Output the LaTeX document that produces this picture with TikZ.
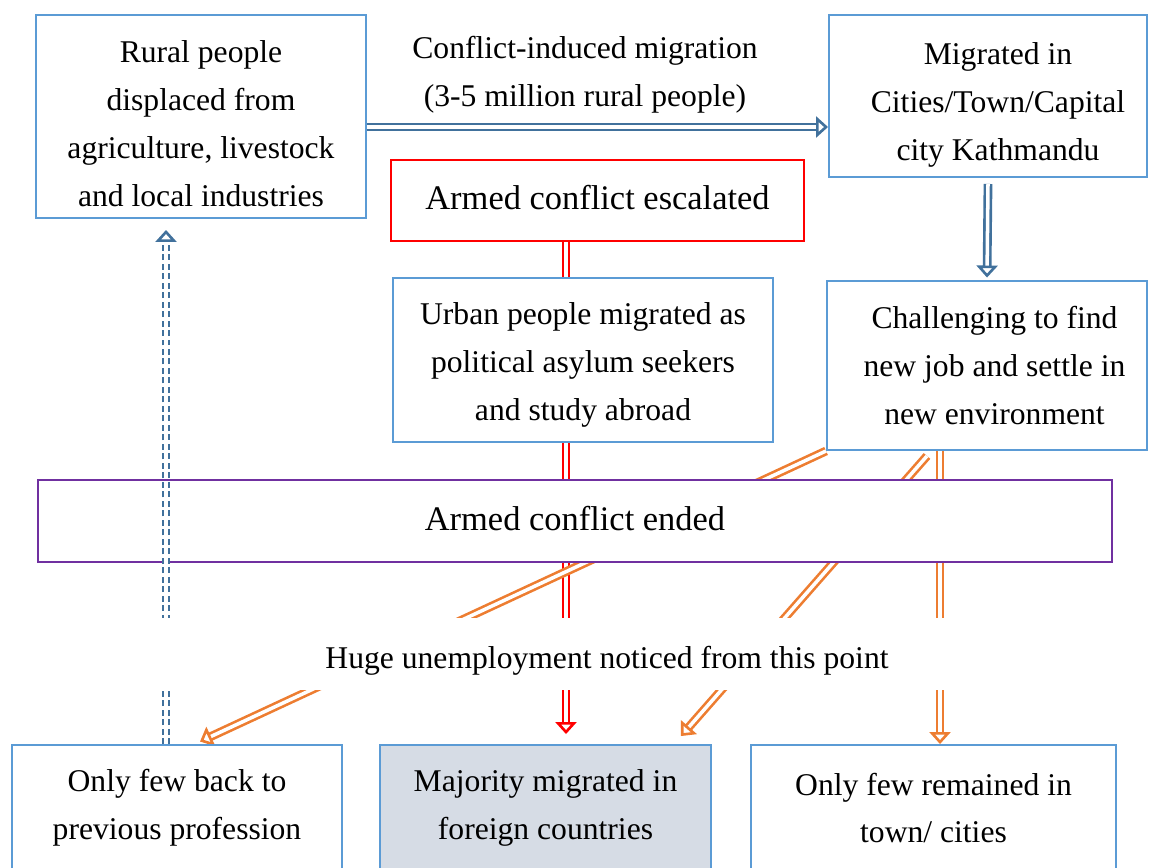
\documentclass[tikz,border=0pt]{standalone}
\usepackage{fontspec}
\setmainfont{Liberation Serif}
\usepackage{tikz}
\usetikzlibrary{arrows.meta,positioning,backgrounds}
\definecolor{boxcol}{RGB}{91,155,213}
\definecolor{flowcol}{RGB}{65,113,156}
\definecolor{escalcol}{RGB}{255,0,0}
\definecolor{endcol}{RGB}{112,48,160}
\definecolor{outcol}{RGB}{237,125,49}
\definecolor{abroadcol}{RGB}{214,220,229}
\newcommand{\lift}[1]{\rule{0pt}{#1}}
\newcommand{\drop}[1]{\rule[-#1]{0pt}{#1}}

\begin{document}
\begin{tikzpicture}[
    box/.style={rectangle, draw=boxcol, line width=1.1pt, fill=white, align=center, inner sep=0pt, font=\fontsize{18}{27.3}\selectfont},
    stage/.style={rectangle, line width=1.2pt, fill=white, align=center, inner sep=0pt, font=\fontsize{19.6}{27}\selectfont},
    flow/.style={double, line width=1.5pt, double distance=2pt, -{Triangle[open, length=2.4mm, width=4.2mm, line width=1.5pt]}},
]
\useasboundingbox (0,0) rectangle (22.98,-17.34);

\node[box, minimum width=6.6cm, minimum height=4.06cm] (rural) at (4.02,-2.33) {\lift{20.3pt}Rural people\\displaced from\\agriculture, livestock\\and local industries};
\node[box, minimum width=6.36cm, minimum height=3.24cm] (cities) at (19.76,-1.92) {\lift{23pt}\hspace*{4mm}Migrated in\\\hspace*{4mm}Cities/Town/Capital\\\hspace*{4mm}city Kathmandu};
\node[font=\fontsize{18}{27.3}\selectfont, align=center] (migr) at (11.7,-1.5) {Conflict-induced migration\\(3-5 million rural people)};
\node[stage, draw=escalcol, minimum width=8.26cm, minimum height=1.62cm] (escal) at (11.95,-4.01) {Armed conflict escalated\drop{3.4pt}};
\node[box, minimum width=7.6cm, minimum height=3.28cm] (urban) at (11.66,-7.2) {\lift{18.5pt}Urban people migrated as\\political asylum seekers\\and study abroad};
\node[box, minimum width=6.4cm, minimum height=3.38cm] (chall) at (19.74,-7.31) {\hspace*{3mm}Challenging to find\\\hspace*{3mm}new job and settle in\\\hspace*{3mm}new environment};
\node[stage, draw=endcol, minimum width=21.48cm, minimum height=1.64cm] (ended) at (11.5,-10.42) {Armed conflict ended\drop{3.4pt}};

\node[box, minimum width=6.6cm, minimum height=2.52cm] (back) at (3.54,-16.16) {Only few back to\\previous profession};
\node[box, fill=abroadcol, minimum width=6.62cm, minimum height=2.52cm] (abroad) at (10.91,-16.16) {Majority migrated in\\foreign countries};
\node[box, minimum width=7.3cm, minimum height=2.52cm] (remain) at (18.67,-16.16) {Only few remained in\\town/ cities};

\draw[flow, flowcol] ([yshift=-2.1mm]rural.east) -- ([yshift=-2.1mm]rural.east -| cities.west);
\draw[flow, flowcol] ([yshift=-1.2mm]cities.south) -- ([yshift=0.5mm]chall.north);
\draw[flow, flowcol, dashed, dash pattern=on 3.4pt off 2pt] ([xshift=-2.2mm]back.north) -- ([xshift=-2.2mm,yshift=-2.2mm]back.north |- rural.south);

\begin{pgfonlayer}{background}
\draw[flow, escalcol] ([xshift=-6.3mm]escal.south) -- ([xshift=-6.3mm,yshift=2mm]escal.south |- abroad.north);
\draw[flow, outcol] (chall.south west) -- ([xshift=4.6mm,yshift=0.5mm]back.north);
\draw[flow, outcol] ([xshift=-12mm,yshift=-1mm]chall.south) -- ([xshift=-6.2mm,yshift=1.6mm]abroad.north east);
\draw[flow, outcol] ([xshift=-9.4mm]chall.south) -- ([xshift=-9.4mm]chall.south |- remain.north);
\end{pgfonlayer}

\node[fill=white, minimum width=18cm, minimum height=1.44cm, font=\fontsize{18}{27.3}\selectfont] (jobless) at (12.14,-13.08) {\lift{20.3pt}Huge unemployment noticed from this point};
\end{tikzpicture}
\end{document}
